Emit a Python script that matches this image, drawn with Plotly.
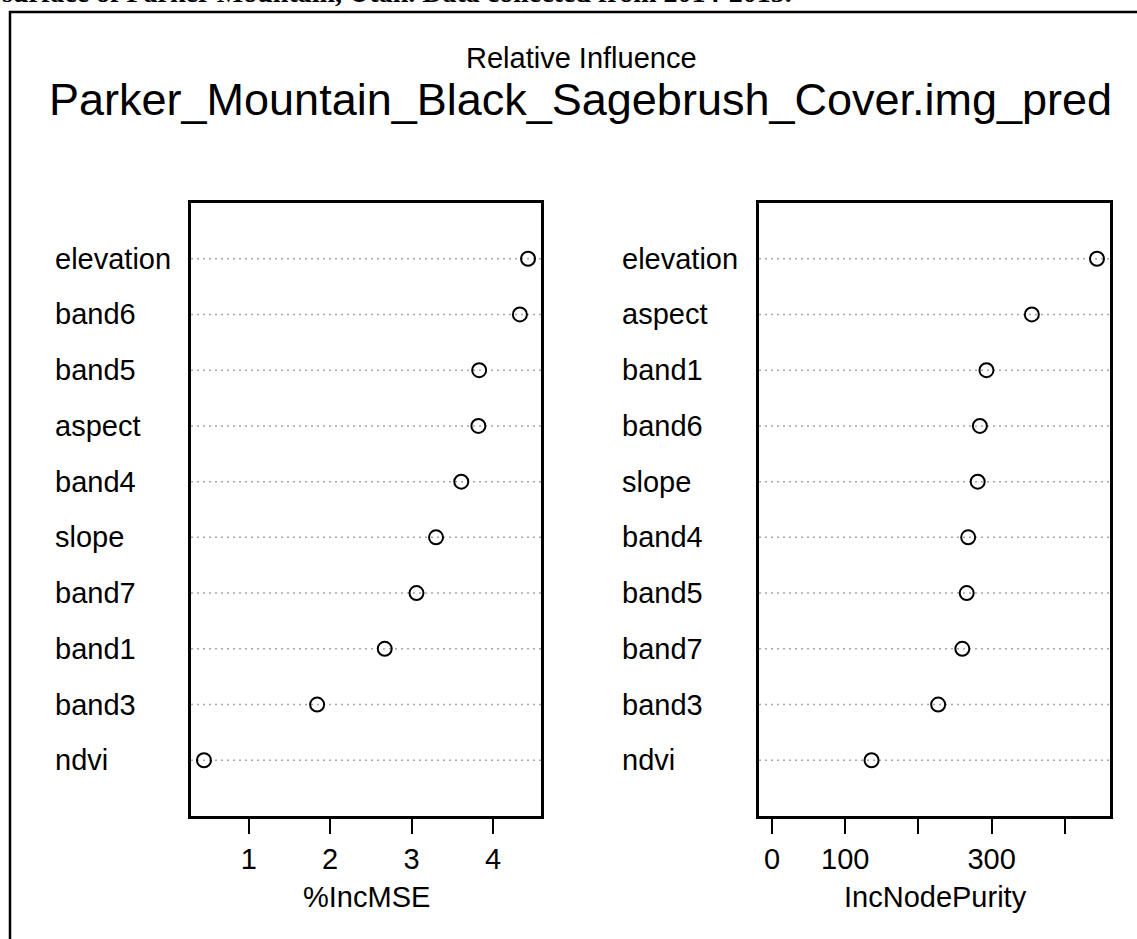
import plotly.graph_objects as go

# ---- data (top-to-bottom order as drawn) ----
mse_vars = ["elevation", "band6", "band5", "aspect", "band4", "slope", "band7", "band1", "band3", "ndvi"]
mse_vals = [4.43, 4.33, 3.83, 3.82, 3.61, 3.30, 3.06, 2.67, 1.84, 0.45]

purity_vars = ["elevation", "aspect", "band1", "band6", "slope", "band4", "band5", "band7", "band3", "ndvi"]
purity_vals = [444, 355, 293, 284, 281, 268, 266, 260, 227, 136]

mse_ticks = [1, 2, 3, 4]
mse_ticktext = ["1", "2", "3", "4"]
purity_ticks = [0, 100, 200, 300, 400]
purity_ticktext = ["0", "100", "", "300", ""]

caption = "surface of Parker Mountain, Utah. Data collected from 2014-2015."
subtitle = "Relative Influence"
title = "Parker_Mountain_Black_Sagebrush_Cover.img_pred"
xlab1 = "%IncMSE"
xlab2 = "IncNodePurity"

W, H = 1137, 939
FONT = "Liberation Sans, Arial, sans-serif"


def px(x):
    return x / W


def py(y):
    return 1 - y / H


n = len(mse_vars)
pos = [n - i for i in range(n)]

fig = go.Figure()

fig.add_trace(go.Scatter(
    x=mse_vals, y=pos, mode="markers", xaxis="x", yaxis="y",
    marker=dict(symbol="circle-open", size=14, color="black", line=dict(width=2, color="black")),
    showlegend=False, hoverinfo="x+text", text=mse_vars))
fig.add_trace(go.Scatter(
    x=purity_vals, y=pos, mode="markers", xaxis="x2", yaxis="y2",
    marker=dict(symbol="circle-open", size=14, color="black", line=dict(width=2, color="black")),
    showlegend=False, hoverinfo="x+text", text=purity_vars))

# R-style 4% padding on x ranges
lo1, hi1 = min(mse_vals), max(mse_vals)
sp1 = hi1 - lo1
lo2, hi2 = 0, max(purity_vals)
sp2 = hi2 - lo2

shapes = []
annotations = []
for i in range(n):
    for xr, yr in (("x", "y"), ("x2", "y2")):
        shapes.append(dict(type="line", xref=xr + " domain", yref=yr, x0=0, x1=1,
                           y0=pos[i], y1=pos[i],
                           line=dict(color="#a6a6a6", width=1.5, dash="2px,4px"), layer="below"))
    annotations.append(dict(text=mse_vars[i], xref="paper", yref="y", x=px(53), y=pos[i],
                            xanchor="left", yanchor="middle", showarrow=False,
                            font=dict(family=FONT, size=29, color="black")))
    annotations.append(dict(text=purity_vars[i], xref="paper", yref="y2", x=px(620), y=pos[i],
                            xanchor="left", yanchor="middle", showarrow=False,
                            font=dict(family=FONT, size=29, color="black")))

# outer frame
shapes.append(dict(type="rect", xref="paper", yref="paper", x0=px(10), x1=1.02, y0=-0.02, y1=py(12),
                   line=dict(color="black", width=2.5), fillcolor="rgba(0,0,0,0)"))

annotations += [
    dict(text=subtitle, xref="paper", yref="paper", x=px(581), y=py(58), xanchor="center",
         yanchor="middle", showarrow=False, font=dict(family=FONT, size=29, color="black")),
    dict(text=title, xref="paper", yref="paper", x=px(580), y=py(100), xanchor="center",
         yanchor="middle", showarrow=False, font=dict(family=FONT, size=45, color="black")),
    dict(text=xlab1, xref="paper", yref="paper", x=px(366), y=py(897), xanchor="center",
         yanchor="middle", showarrow=False, font=dict(family=FONT, size=29, color="black")),
    dict(text=xlab2, xref="paper", yref="paper", x=px(935), y=py(897), xanchor="center",
         yanchor="middle", showarrow=False, font=dict(family=FONT, size=29, color="black")),
    dict(text="<b>" + caption + "</b>", xref="paper", yref="paper", x=0, y=py(-8), xanchor="left",
         yanchor="middle", showarrow=False,
         font=dict(family="Liberation Serif, Times New Roman, serif", size=28, color="black")),
]

axis_common = dict(showline=True, mirror=True, linewidth=2.5, linecolor="black",
                   showgrid=False, zeroline=False)

fig.update_layout(
    width=W, height=H, autosize=False,
    margin=dict(l=0, r=0, t=0, b=0, pad=0),
    paper_bgcolor="white", plot_bgcolor="white",
    font=dict(family=FONT, color="black"),
    xaxis=dict(domain=[px(191), px(541)], range=[lo1 - 0.04 * sp1, hi1 + 0.04 * sp1],
               tickvals=mse_ticks, ticktext=mse_ticktext, ticks="outside", ticklen=15, tickwidth=2,
               tickcolor="black", tickfont=dict(family=FONT, size=29, color="black"),
               anchor="y", **axis_common),
    yaxis=dict(domain=[py(816), py(203)], range=[0, n + 1], showticklabels=False, ticks="",
               anchor="x", **axis_common),
    xaxis2=dict(domain=[px(759), px(1110)], range=[lo2 - 0.04 * sp2, hi2 + 0.04 * sp2],
                tickvals=purity_ticks, ticktext=purity_ticktext, ticks="outside", ticklen=15, tickwidth=2,
                tickcolor="black", tickfont=dict(family=FONT, size=29, color="black"),
                anchor="y2", **axis_common),
    yaxis2=dict(domain=[py(816), py(203)], range=[0, n + 1], showticklabels=False, ticks="",
                anchor="x2", **axis_common),
    shapes=shapes,
    annotations=annotations,
)

fig.write_html("out.html", config={"displayModeBar": False},
               post_script="document.body.style.margin='0';")
